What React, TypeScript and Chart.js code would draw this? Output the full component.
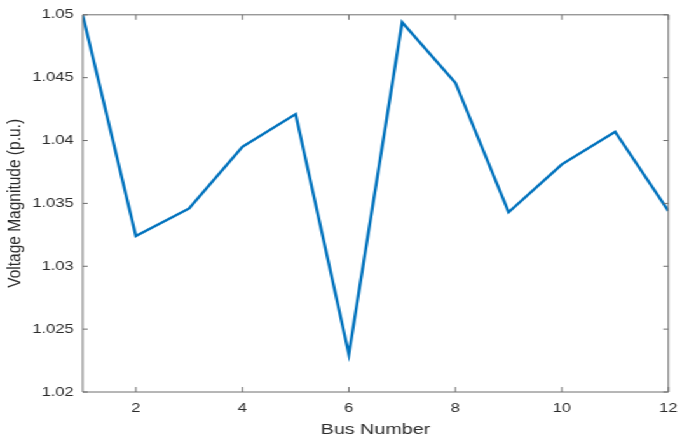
import React, { useEffect, useRef } from "react";
import { Chart, registerables } from "chart.js";

Chart.register(...registerables);

const busNumbers = [1, 2, 3, 4, 5, 6, 7, 8, 9, 10, 11, 12];
const voltageMagnitude = [1.05, 1.0324, 1.0346, 1.0395, 1.0421, 1.023, 1.0494, 1.0446, 1.0343, 1.0381, 1.0407, 1.0344];
const xTickValues = [2, 4, 6, 8, 10, 12];
const yTickValues = [1.02, 1.025, 1.03, 1.035, 1.04, 1.045, 1.05];

const FONT = "'Liberation Sans', Arial, Helvetica, sans-serif";
const TEXT = "#2b2b2b";
const AXIS = "#6e6e6e";
const STRETCH = 1.2712;
const BASE_W = 542;
const BASE_H = 441;

const boxTicksPlugin = {
  id: "boxTicks",
  afterDatasetsDraw(chart: any) {
    const { ctx, chartArea } = chart;
    const { left, right, top, bottom } = chartArea;
    const xs = chart.scales.x;
    const ys = chart.scales.y;
    ctx.save();
    ctx.strokeStyle = AXIS;
    ctx.lineWidth = 1;
    ctx.beginPath();
    ctx.rect(left, top, right - left, bottom - top);
    ctx.stroke();
    ctx.beginPath();
    xTickValues.forEach((v) => {
      const px = xs.getPixelForValue(v);
      ctx.moveTo(px, bottom);
      ctx.lineTo(px, bottom - 5);
      ctx.moveTo(px, top);
      ctx.lineTo(px, top + 5);
    });
    yTickValues.forEach((v) => {
      const py = ys.getPixelForValue(v);
      ctx.moveTo(left, py);
      ctx.lineTo(left + 4, py);
      ctx.moveTo(right, py);
      ctx.lineTo(right - 4, py);
    });
    ctx.stroke();
    ctx.restore();
  },
};

export default function App() {
  const canvasRef = useRef<HTMLCanvasElement | null>(null);

  useEffect(() => {
    document.body.style.margin = "0";
    document.body.style.overflow = "hidden";
    const canvas = canvasRef.current;
    if (!canvas) return;
    const chart = new Chart(canvas, {
      type: "line",
      data: {
        datasets: [
          {
            data: busNumbers.map((b, i) => ({ x: b, y: voltageMagnitude[i] })),
            borderColor: "#0072BD",
            borderWidth: 2.4,
            pointRadius: 0,
            tension: 0,
            fill: false,
          },
        ],
      },
      options: {
        animation: false,
        responsive: true,
        maintainAspectRatio: false,
        layout: { padding: { top: 10, right: 8, left: 0, bottom: 0 } },
        plugins: {
          legend: { display: false },
          tooltip: { enabled: false },
        },
        scales: {
          x: {
            type: "linear",
            min: 1,
            max: 12,
            afterBuildTicks: (scale: any) => {
              scale.ticks = xTickValues.map((v) => ({ value: v }));
            },
            afterFit: (scale: any) => {
              scale.height = 49;
            },
            grid: { display: false, drawTicks: false, tickLength: 0 },
            border: { display: false },
            ticks: {
              padding: 9,
              maxRotation: 0,
              autoSkip: false,
              color: TEXT,
              font: { family: FONT, size: 13 },
              callback: (v: any) => String(v),
            },
            title: {
              display: true,
              text: "Bus Number",
              color: TEXT,
              font: { family: FONT, size: 15.5 },
              padding: { top: 0, bottom: 2 },
            },
          },
          y: {
            type: "linear",
            min: 1.02,
            max: 1.05,
            afterBuildTicks: (scale: any) => {
              scale.ticks = yTickValues.map((v) => ({ value: v }));
            },
            afterFit: (scale: any) => {
              scale.width = 65;
            },
            grid: { display: false, drawTicks: false, tickLength: 0 },
            border: { display: false },
            ticks: {
              padding: 7,
              autoSkip: false,
              color: TEXT,
              font: { family: FONT, size: 13 },
              callback: (v: any) => String(Number(Number(v).toFixed(3))),
            },
            title: {
              display: true,
              text: "Voltage Magnitude (p.u.)",
              color: TEXT,
              font: { family: FONT, size: 15.5 },
              padding: { top: 2, bottom: 0 },
            },
          },
        },
      },
      plugins: [boxTicksPlugin],
    });
    return () => chart.destroy();
  }, []);

  return (
    <div
      style={{
        position: "absolute",
        left: 0,
        top: 0,
        width: BASE_W + "px",
        height: BASE_H + "px",
        transform: `scaleX(${STRETCH})`,
        transformOrigin: "0 0",
        background: "#ffffff",
      }}
    >
      <canvas ref={canvasRef} />
    </div>
  );
}
